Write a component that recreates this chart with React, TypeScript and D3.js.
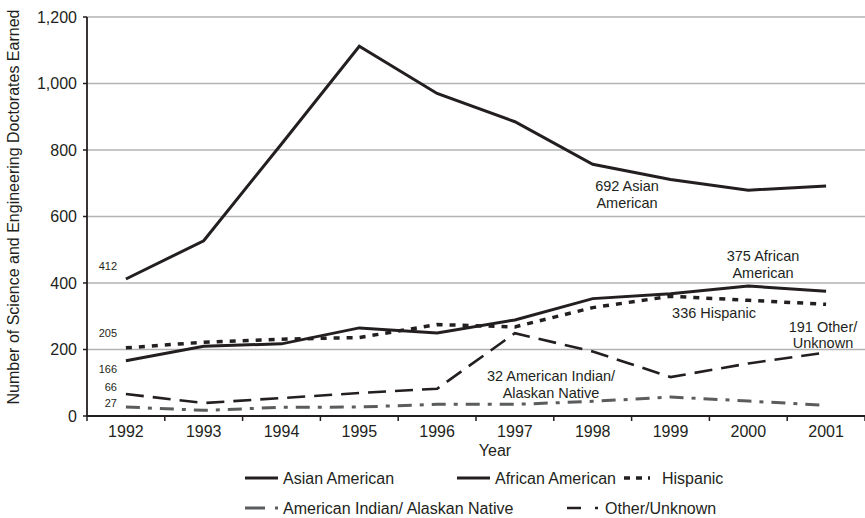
import React from 'react';
import * as d3 from 'd3';

const years = ['1992', '1993', '1994', '1995', '1996', '1997', '1998', '1999', '2000', '2001'];
const asianAmerican = [412, 527, 818, 1112, 970, 885, 757, 711, 679, 692];
const africanAmerican = [166, 210, 217, 265, 250, 289, 353, 368, 391, 375];
const hispanic = [205, 222, 231, 236, 275, 268, 326, 360, 348, 336];
const americanIndian = [27, 17, 26, 27, 35, 35, 44, 57, 45, 32];
const otherUnknown = [66, 39, 54, 69, 82, 249, 194, 117, 158, 191];
const yTicks = [0, 200, 400, 600, 800, 1000, 1200];

const W = 865;
const H = 518;
const FONT = 'Liberation Sans, Arial, Helvetica, sans-serif';
const INK = '#231f20';

const series = [
  { name: 'Asian American', values: asianAmerican, color: INK, width: 3, dash: '', legendDash: '' },
  { name: 'African American', values: africanAmerican, color: INK, width: 3, dash: '', legendDash: '' },
  { name: 'Hispanic', values: hispanic, color: INK, width: 3.5, dash: '6,7', legendDash: '6,6,6,6,2,40' },
  { name: 'American Indian/ Alaskan Native', values: americanIndian, color: '#5a5c5e', width: 3, dash: '14,8,4,8', legendDash: '20,10,3,60' },
  { name: 'Other/Unknown', values: otherUnknown, color: INK, width: 2.6, dash: '18,9', legendDash: '14,14,3,60' },
];

// legend layout: [x of sample start, row y]
const legendPos = [
  [245, 478],
  [457, 478],
  [624, 478],
  [245, 508],
  [567, 508],
];

const App: React.FC = () => {
  const x = d3.scaleBand<string>().domain(years).range([87, 865]);
  const y = d3.scaleLinear().domain([0, 1200]).range([416, 17]);
  const cx = (yr: string) => (x(yr) as number) + x.bandwidth() / 2;

  const line = (vals: number[]) =>
    d3.line<number>()
      .x((_, i) => cx(years[i]))
      .y(d => y(d))(vals) as string;

  const bounds = years.map(yr => x(yr) as number).concat([865]);

  return (
    <svg width={W} height={H} style={{ position: 'absolute', left: 0, top: 0, background: '#fff' }}
      fontFamily={FONT}>
      {/* gridlines */}
      {yTicks.filter(t => t > 0).map(t => (
        <line key={t} x1={87} x2={865} y1={y(t)} y2={y(t)} stroke="#b3b3b3" strokeWidth={1.5} />
      ))}
      {/* y axis */}
      <line x1={87} x2={87} y1={y(1200)} y2={y(0)} stroke={INK} strokeWidth={1.8} />
      {yTicks.map(t => (
        <g key={t}>
          <line x1={83} x2={87} y1={y(t)} y2={y(t)} stroke={INK} strokeWidth={1.5} />
          <text x={77} y={y(t) + 5.5} textAnchor="end" fontSize={16} fill={INK}>
            {d3.format(',')(t)}
          </text>
        </g>
      ))}
      {/* x axis */}
      <line x1={87} x2={865} y1={y(0)} y2={y(0)} stroke={INK} strokeWidth={1.8} />
      {bounds.map((b, i) => (
        <line key={i} x1={b} x2={b} y1={y(0)} y2={y(0) + 5} stroke={INK} strokeWidth={1.5} />
      ))}
      {years.map(yr => (
        <text key={yr} x={cx(yr)} y={436.5} textAnchor="middle" fontSize={16} fill={INK}>{yr}</text>
      ))}
      <text x={495} y={456} textAnchor="middle" fontSize={16} fill={INK}>Year</text>
      <text transform="translate(19,207) rotate(-90)" textAnchor="middle" fontSize={16} fill={INK}>
        Number of Science and Engineering Doctorates Earned
      </text>

      {/* lines */}
      {series.map(s => (
        <path key={s.name} d={line(s.values)} fill="none" stroke={s.color} strokeWidth={s.width}
          strokeDasharray={s.dash || undefined} strokeLinejoin="miter" />
      ))}

      {/* start labels */}
      <g fontSize={11} fill={INK} textAnchor="end">
        <text x={117} y={y(asianAmerican[0]) - 9}>{asianAmerican[0]}</text>
        <text x={117} y={y(hispanic[0]) - 11}>{hispanic[0]}</text>
        <text x={117} y={y(africanAmerican[0]) + 12}>{africanAmerican[0]}</text>
        <text x={117} y={y(otherUnknown[0]) - 3}>{otherUnknown[0]}</text>
        <text x={117} y={y(americanIndian[0]) - 0.5}>{americanIndian[0]}</text>
      </g>

      {/* end labels */}
      <g fontSize={14.5} fill={INK} textAnchor="middle">
        <text x={627} y={191}>{asianAmerican[9]} Asian</text>
        <text x={627} y={208}>American</text>
        <text x={763} y={261}>{africanAmerican[9]} African</text>
        <text x={763} y={278}>American</text>
        <text x={714} y={318}>{hispanic[9]} Hispanic</text>
        <text x={823} y={332}>{otherUnknown[9]} Other/</text>
        <text x={823} y={348}>Unknown</text>
        <text x={551} y={381}>{americanIndian[9]} American Indian/</text>
        <text x={551} y={398}>Alaskan Native</text>
      </g>

      {/* legend */}
      {series.map((s, i) => {
        const [lx, ly] = legendPos[i];
        return (
          <g key={s.name}>
            <line x1={lx} x2={lx + 33} y1={ly} y2={ly} stroke={s.color} strokeWidth={s.width}
              strokeDasharray={s.legendDash || undefined} />
            <text x={lx + 38} y={ly + 5.5} fontSize={16} fill={INK}>{s.name}</text>
          </g>
        );
      })}
    </svg>
  );
};

export default App;
